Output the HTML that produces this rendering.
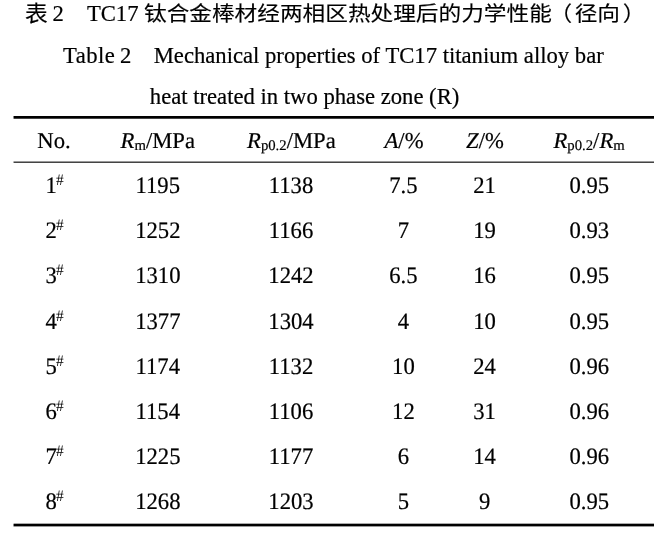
<!DOCTYPE html>
<html>
<head>
<meta charset="utf-8">
<title>Table 2</title>
<style>
html,body{margin:0;padding:0;background:#fff;}
body{width:661px;height:533px;position:relative;overflow:hidden;color:#000;-webkit-text-stroke:0.2px #000;font-family:"Liberation Serif","Noto Sans CJK SC",serif;}
.t{position:absolute;white-space:nowrap;line-height:1;font-size:22.67px;}
.cn{position:absolute;white-space:nowrap;line-height:1;font-family:"Liberation Sans","Noto Sans CJK SC","WenQuanYi Zen Hei",sans-serif;font-size:22.67px;font-weight:400;-webkit-text-stroke:0.15px #000;transform:scaleY(0.91);transform-origin:0 0;}
.r{position:absolute;left:14px;width:640px;height:1px;}
.c{position:absolute;white-space:nowrap;line-height:1;font-size:22.67px;transform:translateX(-50%) scaleY(1.04);transform-origin:50% 19px;text-rendering:geometricPrecision;}
sub{font-size:0.65em;vertical-align:-0.14em;line-height:0;}
sup{font-size:0.68em;vertical-align:0.55em;line-height:0;margin-left:-0.8px;-webkit-text-stroke:0;}
i{font-style:italic;}
.h{transform:translateX(-50%);}
</style>
</head>
<body>
<div class="cn" style="left:25px;top:2.6px;transform:scaleY(0.955)">表</div>
<div class="t" style="left:52.5px;top:3px">2</div>
<div class="t" style="left:86.9px;top:3px">TC17</div>
<div class="cn" style="left:144.0px;top:3.6px">钛合金棒材经两相区热处理后的力学性能</div>
<div class="cn" style="left:549.56px;top:3.6px">（</div>
<div class="cn" style="left:574.73px;top:3.6px">径向</div>
<div class="cn" style="left:622.77px;top:3.6px">）</div>
<div class="t" style="left:63px;top:45px;letter-spacing:0.45px">Table</div>
<div class="t" style="left:120px;top:45px">2</div>
<div class="t" style="left:153.7px;top:45px">Mechanical properties of TC17 titanium alloy bar</div>
<div class="t" style="left:149.8px;top:86px">heat treated in two phase zone (R)</div>
<div class="r" style="top:116px;background:#000;box-shadow:-1px 0 0 #888;"></div>
<div class="r" style="top:117px;background:#000;box-shadow:-1px 0 0 #888;"></div>
<div class="r" style="top:118px;background:#444;box-shadow:-1px 0 0 #aaa;"></div>
<div class="r" style="top:161px;background:#999;box-shadow:-1px 0 0 #ccc;"></div>
<div class="r" style="top:162px;background:#444;box-shadow:-1px 0 0 #aaa;"></div>
<div class="r" style="top:523px;background:#aaa;box-shadow:-1px 0 0 #ddd;"></div>
<div class="r" style="top:524px;background:#000;box-shadow:-1px 0 0 #888;"></div>
<div class="r" style="top:525px;background:#000;box-shadow:-1px 0 0 #888;"></div>
<div class="r" style="top:526px;background:#999;box-shadow:-1px 0 0 #ccc;"></div>
<div class="c h" style="left:54px;top:130px">No.</div>
<div class="c h" style="left:157.8px;top:130px"><i>R</i><sub>m</sub>/MPa</div>
<div class="c h" style="left:291.4px;top:130px"><i>R</i><sub>p0.2</sub>/MPa</div>
<div class="c h" style="left:404px;top:130px"><i>A</i>/%</div>
<div class="c h" style="left:485px;top:130px"><i>Z</i>/%</div>
<div class="c h" style="left:589.1px;top:130px"><i>R</i><sub>p0.2</sub>/<i>R</i><sub>m</sub></div>
<div class="c" style="left:54.7px;top:175.0px">1<sup>#</sup></div>
<div class="c" style="left:157.8px;top:175.0px">1195</div>
<div class="c" style="left:291px;top:175.0px">1138</div>
<div class="c" style="left:403.4px;top:175.0px">7.5</div>
<div class="c" style="left:484.6px;top:175.0px">21</div>
<div class="c" style="left:589.25px;top:175.0px">0.95</div>
<div class="c" style="left:54.7px;top:220.2px">2<sup>#</sup></div>
<div class="c" style="left:157.8px;top:220.2px">1252</div>
<div class="c" style="left:291px;top:220.2px">1166</div>
<div class="c" style="left:403.4px;top:220.2px">7</div>
<div class="c" style="left:484.6px;top:220.2px">19</div>
<div class="c" style="left:589.25px;top:220.2px">0.93</div>
<div class="c" style="left:54.7px;top:265.3px">3<sup>#</sup></div>
<div class="c" style="left:157.8px;top:265.3px">1310</div>
<div class="c" style="left:291px;top:265.3px">1242</div>
<div class="c" style="left:403.4px;top:265.3px">6.5</div>
<div class="c" style="left:484.6px;top:265.3px">16</div>
<div class="c" style="left:589.25px;top:265.3px">0.95</div>
<div class="c" style="left:54.7px;top:310.5px">4<sup>#</sup></div>
<div class="c" style="left:157.8px;top:310.5px">1377</div>
<div class="c" style="left:291px;top:310.5px">1304</div>
<div class="c" style="left:403.4px;top:310.5px">4</div>
<div class="c" style="left:484.6px;top:310.5px">10</div>
<div class="c" style="left:589.25px;top:310.5px">0.95</div>
<div class="c" style="left:54.7px;top:355.7px">5<sup>#</sup></div>
<div class="c" style="left:157.8px;top:355.7px">1174</div>
<div class="c" style="left:291px;top:355.7px">1132</div>
<div class="c" style="left:403.4px;top:355.7px">10</div>
<div class="c" style="left:484.6px;top:355.7px">24</div>
<div class="c" style="left:589.25px;top:355.7px">0.96</div>
<div class="c" style="left:54.7px;top:400.9px">6<sup>#</sup></div>
<div class="c" style="left:157.8px;top:400.9px">1154</div>
<div class="c" style="left:291px;top:400.9px">1106</div>
<div class="c" style="left:403.4px;top:400.9px">12</div>
<div class="c" style="left:484.6px;top:400.9px">31</div>
<div class="c" style="left:589.25px;top:400.9px">0.96</div>
<div class="c" style="left:54.7px;top:446.0px">7<sup>#</sup></div>
<div class="c" style="left:157.8px;top:446.0px">1225</div>
<div class="c" style="left:291px;top:446.0px">1177</div>
<div class="c" style="left:403.4px;top:446.0px">6</div>
<div class="c" style="left:484.6px;top:446.0px">14</div>
<div class="c" style="left:589.25px;top:446.0px">0.96</div>
<div class="c" style="left:54.7px;top:491.2px">8<sup>#</sup></div>
<div class="c" style="left:157.8px;top:491.2px">1268</div>
<div class="c" style="left:291px;top:491.2px">1203</div>
<div class="c" style="left:403.4px;top:491.2px">5</div>
<div class="c" style="left:484.6px;top:491.2px">9</div>
<div class="c" style="left:589.25px;top:491.2px">0.95</div>
</body>
</html>
